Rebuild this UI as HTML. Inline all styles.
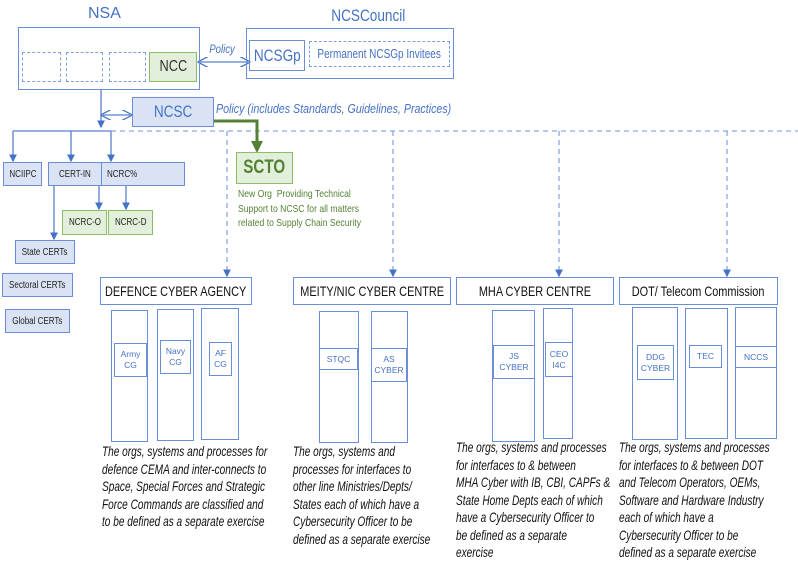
<!DOCTYPE html>
<html><head><meta charset="utf-8"><style>
body{margin:0;width:798px;height:558px;background:#fff;position:relative;overflow:hidden;font-family:"Liberation Sans",sans-serif}
.a{position:absolute;box-sizing:border-box}
.b{border:1.5px solid #6a8fd6}
.d{border:1.3px dashed #7d9ee0}
.f{background:#dae3f3}
.g{background:#e2efda;border:1.5px solid #8fbc6a}
.c{display:flex;align-items:center;justify-content:center;text-align:center;white-space:nowrap}
.t{color:#4472c4}
.s{font-size:10px;color:#222}
.h{font-size:14px;color:#111}
.in{font-size:8.5px;color:#4472c4;line-height:11px}
.x{display:inline-block;transform:scaleX(.8);white-space:nowrap}
.p{font-style:italic;font-size:14px;line-height:17.5px;color:#111;white-space:nowrap;transform:scaleX(0.72);transform-origin:0 0}
</style></head><body>
<svg class="a" style="left:0;top:0" width="798" height="558">
<defs>
<marker id="m" markerWidth="6" markerHeight="6" refX="5" refY="3" orient="auto"><path d="M0,0L6,3L0,6z" fill="#4472c4"/></marker>
<marker id="o" markerWidth="8" markerHeight="8" refX="6" refY="4" orient="auto"><path d="M0,0L8,4L0,8" fill="none" stroke="#4472c4"/></marker>
<marker id="os" markerWidth="8" markerHeight="8" refX="2" refY="4" orient="auto"><path d="M8,0L0,4L8,8" fill="none" stroke="#4472c4"/></marker>
<marker id="gm" markerWidth="4" markerHeight="4" refX="3" refY="2" orient="auto"><path d="M0,0L4,2L0,4z" fill="#548235"/></marker>
</defs>
<g stroke="#5b7fd0" stroke-width="1.3" fill="none">
<line x1="200" y1="62" x2="248" y2="62" marker-end="url(#o)" marker-start="url(#os)"/>
<line x1="101" y1="90" x2="101" y2="127" marker-end="url(#m)"/>
<line x1="103" y1="115" x2="130" y2="115" marker-end="url(#o)" marker-start="url(#os)"/>
<line x1="13" y1="131" x2="111" y2="131"/>
<line x1="13" y1="131" x2="13" y2="161" marker-end="url(#m)"/>
<line x1="71" y1="131" x2="71" y2="161" marker-end="url(#m)"/>
<line x1="111" y1="131" x2="111" y2="161" marker-end="url(#m)"/>
<line x1="99" y1="185" x2="99" y2="209" marker-end="url(#m)"/>
<line x1="126" y1="185" x2="126" y2="209" marker-end="url(#m)"/>
<line x1="54" y1="185" x2="54" y2="239" marker-end="url(#m)"/>
<g stroke-dasharray="5,4" stroke="#8aa8e2">
<line x1="111" y1="131" x2="798" y2="131"/>
<line x1="227" y1="131" x2="227" y2="276" marker-end="url(#m)"/>
<line x1="393" y1="131" x2="393" y2="276" marker-end="url(#m)"/>
<line x1="559" y1="131" x2="559" y2="276" marker-end="url(#m)"/>
<line x1="727" y1="131" x2="727" y2="276" marker-end="url(#m)"/>
</g>
</g>
<path d="M213,121H257V150" stroke="#548235" stroke-width="3" fill="none" marker-end="url(#gm)"/>
</svg>

<div class="a t" style="left:88px;top:5px;font-size:16px">NSA</div>
<div class="a b" style="left:18px;top:27px;width:182px;height:63px"></div>
<div class="a d" style="left:22px;top:52px;width:39px;height:30px"></div>
<div class="a d" style="left:66px;top:52px;width:37px;height:30px"></div>
<div class="a d" style="left:109px;top:52px;width:37px;height:30px"></div>
<div class="a g c" style="left:149px;top:52px;width:48px;height:30px;font-size:16px;color:#333"><span class="x">NCC</span></div>
<div class="a t" style="left:206px;top:42px;font-size:12px;font-style:italic"><span class="x">Policy</span></div>

<div class="a t" style="left:322px;top:6px;font-size:17px"><span class="x">NCSCouncil</span></div>
<div class="a b" style="left:246px;top:28px;width:208px;height:51px"></div>
<div class="a b c t" style="left:249px;top:40px;width:56px;height:31px;font-size:17px"><span class="x">NCSGp</span></div>
<div class="a d c t" style="left:309px;top:41px;width:141px;height:26px;font-size:12.5px"><span class="x">Permanent NCSGp Invitees</span></div>

<div class="a b f c t" style="left:132px;top:97px;width:82px;height:30px;font-size:17px"><span class="x">NCSC</span></div>
<div class="a t" style="left:216px;top:101px;font-size:13px;font-style:italic"><span class="x" style="transform-origin:0 0;transform:scaleX(.82)">Policy (includes Standards, Guidelines, Practices)</span></div>

<div class="a b f c s" style="left:3px;top:162px;width:39px;height:24px"><span class="x">NCIIPC</span></div>
<div class="a b f c s" style="left:48px;top:162px;width:54px;height:24px"><span class="x">CERT-IN</span></div>
<div class="a b f s" style="left:101px;top:162px;width:84px;height:24px;padding:6px 0 0 5px"><span class="x" style="transform-origin:0 0">NCRC%</span></div>
<div class="a g c s" style="left:62px;top:210px;width:45px;height:25px"><span class="x">NCRC-O</span></div>
<div class="a g c s" style="left:108px;top:210px;width:45px;height:25px"><span class="x">NCRC-D</span></div>
<div class="a b f c s" style="left:15px;top:240px;width:60px;height:24px"><span class="x">State CERTs</span></div>
<div class="a b f c s" style="left:2px;top:273px;width:71px;height:24px"><span class="x">Sectoral CERTs</span></div>
<div class="a b f c s" style="left:5px;top:309px;width:65px;height:24px"><span class="x">Global CERTs</span></div>

<div class="a g c" style="left:236px;top:152px;width:57px;height:32px;font-size:19px;font-weight:bold;color:#548235"><span class="x">SCTO</span></div>
<div class="a" style="left:238px;top:187px;font-size:10.5px;line-height:14.5px;color:#548235;white-space:nowrap;transform:scaleX(.82);transform-origin:0 0">New Org&nbsp; Providing Technical<br>Support to NCSC for all matters<br>related to Supply Chain Security</div>

<div class="a b c h" style="left:100px;top:277px;width:152px;height:28px"><span class="x" style="transform:scaleX(.78)">DEFENCE CYBER AGENCY</span></div>
<div class="a b c h" style="left:293px;top:277px;width:158px;height:28px"><span class="x" style="transform:scaleX(.78)">MEITY/NIC CYBER CENTRE</span></div>
<div class="a b c h" style="left:456px;top:277px;width:158px;height:28px"><span class="x" style="transform:scaleX(.78)">MHA CYBER CENTRE</span></div>
<div class="a b c h" style="left:619px;top:277px;width:159px;height:28px"><span class="x" style="transform:scaleX(.78)">DOT/ Telecom Commission</span></div>

<div class="a b" style="left:111px;top:310px;width:37px;height:132px"></div>
<div class="a b" style="left:157px;top:309px;width:37px;height:132px"></div>
<div class="a b" style="left:201px;top:308px;width:38px;height:132px"></div>
<div class="a b c in" style="left:114px;top:343px;width:33px;height:34px">Army<br>CG</div>
<div class="a b c in" style="left:160px;top:340px;width:31px;height:34px">Navy<br>CG</div>
<div class="a b c in" style="left:209px;top:342px;width:23px;height:34px">AF<br>CG</div>

<div class="a b" style="left:319px;top:311px;width:40px;height:132px"></div>
<div class="a b" style="left:371px;top:311px;width:37px;height:132px"></div>
<div class="a b c in" style="left:319px;top:348px;width:39px;height:22px">STQC</div>
<div class="a b c in" style="left:371px;top:348px;width:36px;height:34px">AS<br>CYBER</div>

<div class="a b" style="left:492px;top:310px;width:43px;height:132px"></div>
<div class="a b" style="left:543px;top:308px;width:30px;height:131px"></div>
<div class="a b c in" style="left:493px;top:345px;width:42px;height:34px">JS<br>CYBER</div>
<div class="a b c in" style="left:545px;top:342px;width:28px;height:35px">CEO<br>I4C</div>

<div class="a b" style="left:632px;top:307px;width:46px;height:133px"></div>
<div class="a b" style="left:685px;top:308px;width:43px;height:131px"></div>
<div class="a b" style="left:735px;top:307px;width:42px;height:132px"></div>
<div class="a b c in" style="left:637px;top:345px;width:37px;height:35px">DDG<br>CYBER</div>
<div class="a b c in" style="left:689px;top:345px;width:33px;height:23px">TEC</div>
<div class="a b c in" style="left:735px;top:346px;width:42px;height:22px">NCCS</div>

<div class="a p" style="left:102px;top:443px">The orgs, systems and processes for<br>defence CEMA and inter-connects to<br>Space, Special Forces and Strategic<br>Force Commands are classified and<br>to be defined as a separate exercise</div>
<div class="a p" style="left:293px;top:443px">The orgs, systems and<br>processes for interfaces to<br>other line Ministries/Depts/<br>States each of which have a<br>Cybersecurity Officer to be<br>defined as a separate exercise</div>
<div class="a p" style="left:456px;top:439px">The orgs, systems and processes<br>for interfaces to &amp; between<br>MHA Cyber with IB, CBI, CAPFs &amp;<br>State Home Depts each of which<br>have a Cybersecurity Officer to<br>be defined as a separate<br>exercise</div>
<div class="a p" style="left:619px;top:439px">The orgs, systems and processes<br>for interfaces to &amp; between DOT<br>and Telecom Operators, OEMs,<br>Software and Hardware Industry<br>each of which have a<br>Cybersecurity Officer to be<br>defined as a separate exercise</div>
</body></html>
